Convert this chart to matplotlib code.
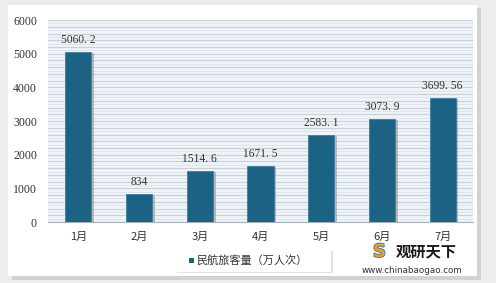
import matplotlib.pyplot as plt
import matplotlib.patheffects as pe
from matplotlib.patches import Rectangle

months = ['1月', '2月', '3月', '4月', '5月', '6月', '7月']
values = [5060.2, 834, 1514.6, 1671.5, 2583.1, 3073.9, 3699.56]
labels = ['5060. 2', '834', '1514. 6', '1671. 5', '2583. 1', '3073. 9', '3699. 56']
series_name = '民航旅客量（万人次）'

plt.rcParams['font.family'] = ['Noto Sans CJK SC', 'DejaVu Sans']

fig = plt.figure(figsize=(4.96, 2.83), dpi=100, facecolor='#ededed')

# белая панель с тенью
shadow = Rectangle((0.024, 0.012), 0.945, 0.958, transform=fig.transFigure,
                   facecolor='#d2d2d2', edgecolor='none', zorder=-3)
panel = Rectangle((0.016, 0.025), 0.945, 0.958, transform=fig.transFigure,
                  facecolor='white', edgecolor='none', zorder=-2)
fig.patches.extend([shadow, panel])

ax = fig.add_axes([0.0968, 0.2155, 0.8568, 0.7135])
ax.set_facecolor('#eef3f8')
ax.set_xlim(-0.5, 6.5)
ax.set_ylim(0, 6000)

for y in range(0, 6001, 200):
    ax.axhline(y, color='#c9d0d6', lw=0.8, zorder=1)
for y in range(100, 6000, 200):
    ax.axhline(y, color='#dde3e8', lw=0.6, zorder=1)

bars = ax.bar(range(len(months)), values, width=0.43, color='#1b6284',
              edgecolor='#3f7f9c', linewidth=0.6, zorder=3)
for b in bars:
    b.set_path_effects([pe.SimplePatchShadow(offset=(2, -1), shadow_rgbFace='#7a8690', alpha=0.5),
                        pe.Normal()])

for i, (v, t) in enumerate(zip(values, labels)):
    ax.text(i, v + 170, t, ha='center', va='bottom', fontsize=8.3,
            family=['Liberation Serif', 'DejaVu Serif'], color='#333333', zorder=4)

ax.set_xticks(range(len(months)))
ax.set_xticklabels(months, fontsize=8, color='#333333')
ax.set_yticks(range(0, 6001, 1000))
ax.set_yticklabels([str(v) for v in range(0, 6001, 1000)], fontsize=8.5,
                   family=['Liberation Serif', 'DejaVu Serif'], color='#333333')
ax.tick_params(length=0, pad=8)
ax.tick_params(axis='x', pad=7)
for s in ['top', 'right', 'left']:
    ax.spines[s].set_visible(False)
ax.spines['bottom'].set_color('#a8b0b8')
ax.spines['bottom'].set_linewidth(0.8)

# легенда
lshadow = Rectangle((0.357, 0.035), 0.315, 0.078, transform=fig.transFigure,
                    facecolor='#e2e2e2', edgecolor='none', zorder=1)
lbox = Rectangle((0.352, 0.04), 0.315, 0.078, transform=fig.transFigure,
                 facecolor='white', edgecolor='none', zorder=2)
fig.patches.extend([lshadow, lbox])
fig.patches.append(Rectangle((0.381, 0.071), 0.01, 0.018, transform=fig.transFigure,
                             facecolor='#1b6284', edgecolor='none', zorder=3))
fig.text(0.395, 0.079, series_name, fontsize=8, color='#333333', va='center', ha='left', zorder=3)

# водяной знак
fig.text(0.86, 0.11, '观研天下', fontsize=11, fontweight='bold', color='#1a1a1a',
         ha='center', va='center')
fig.text(0.83, 0.045, 'www.chinabaogao.com', fontsize=6.3, color='#333333',
         ha='center', va='center', family=['DejaVu Sans'])
fig.text(0.765, 0.11, 'S', fontsize=13, fontweight='bold', color='#f39a1e',
         ha='center', va='center', family=['DejaVu Sans'],
         path_effects=[pe.withStroke(linewidth=1.2, foreground='#2b7bb9')])

fig.savefig('out.png', dpi=100, facecolor=fig.get_facecolor())
